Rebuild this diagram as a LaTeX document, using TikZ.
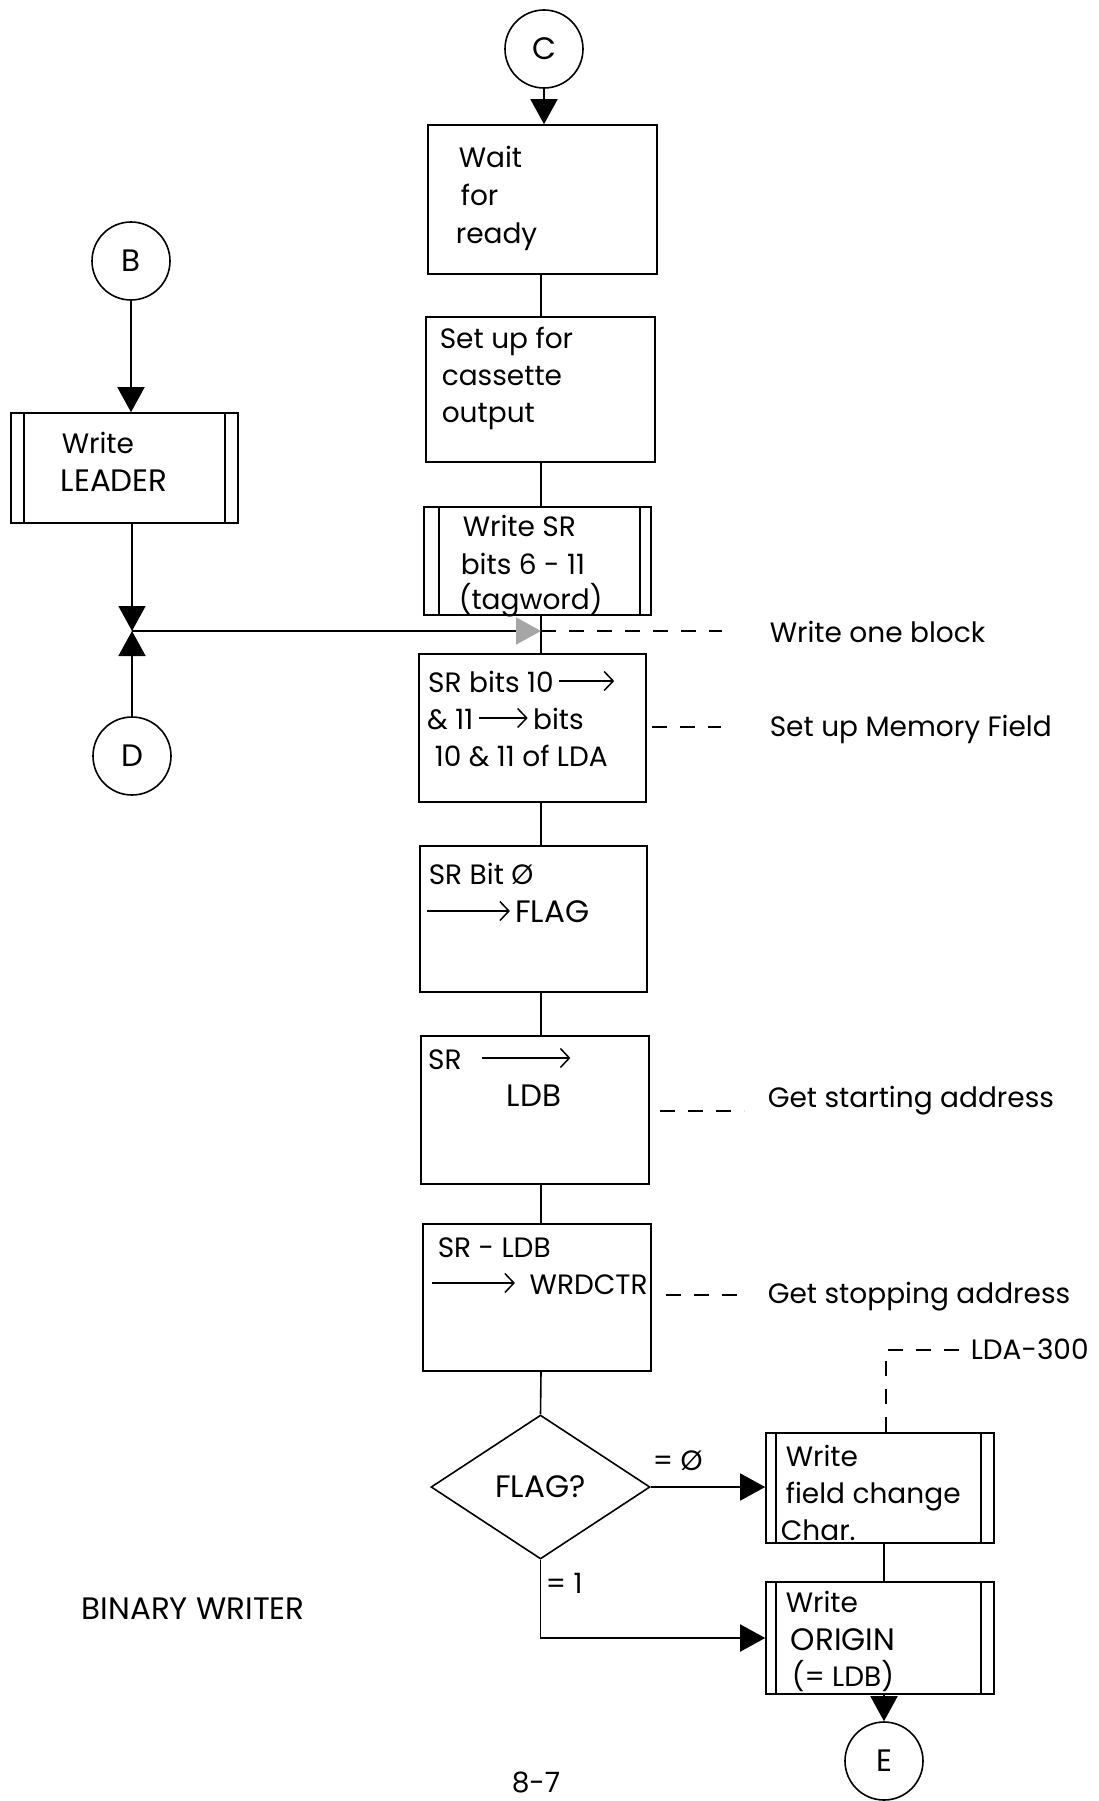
\documentclass[tikz,border=0pt]{standalone}
\usepackage{fontspec}
\setmainfont{Poppins}
\usetikzlibrary{arrows.meta,shapes.geometric}
\newcommand\myfs{\fontsize{28}{34}\selectfont}
\newcommand\capfs{\fontsize{31}{36}\selectfont}
\newcommand\tarr[1]{\tikz[baseline=-11pt]\draw[line width=1.5pt,-{Straight Barb[length=9pt,width=19pt]}] (0pt,0pt) -- (#1,0pt);}
\begin{document}
\begin{tikzpicture}[x=1pt,y=-1pt,
  line width=1.6pt,
  box/.style={draw, rectangle, inner sep=0pt},
  circ/.style={draw, circle, minimum size=78pt, inner sep=0pt, font=\capfs},
  txt/.style={anchor=base west, inner sep=0pt, font=\myfs},
  arr/.style={-{Triangle[length=25pt,width=27pt]}},
  arrgray/.style={-{Triangle[length=25pt,width=27pt,color=black!35]}},
  dsh/.style={dash pattern=on 15pt off 13pt},
]
\useasboundingbox (0,0) rectangle (1099,1801);

% boxes
\node[box, minimum width=229pt, minimum height=149pt] (b1) at (542.5,199.5) {};
\node[box, minimum width=229pt, minimum height=145pt] (b2) at (540.5,389.5) {};
\node[box, minimum width=227pt, minimum height=108pt] (b3) at (537.5,561) {};
\node[box, minimum width=227pt, minimum height=148pt] (b4) at (532.5,728) {};
\node[box, minimum width=227pt, minimum height=146pt] (b5) at (533.5,919) {};
\node[box, minimum width=228pt, minimum height=148pt] (b6) at (535,1110) {};
\node[box, minimum width=228pt, minimum height=147pt] (b7) at (537,1297.5) {};
\node[draw, diamond, minimum width=219pt, minimum height=144pt, inner sep=0pt, font=\capfs] (dia) at (540.5,1487) {FLAG?};
\node[box, minimum width=228pt, minimum height=110pt] (b8) at (880,1488) {};
\node[box, minimum width=228pt, minimum height=112pt] (b9) at (880,1638) {};
\node[box, minimum width=227pt, minimum height=110pt] (lead) at (124.5,468) {};

% inner verticals of predefined-process boxes
\draw ([xshift=16pt]b3.north west) -- ([xshift=16pt]b3.south west);
\draw ([xshift=-12pt]b3.north east) -- ([xshift=-12pt]b3.south east);
\draw ([xshift=11pt]b8.north west) -- ([xshift=11pt]b8.south west);
\draw ([xshift=-14pt]b8.north east) -- ([xshift=-14pt]b8.south east);
\draw ([xshift=11pt]b9.north west) -- ([xshift=11pt]b9.south west);
\draw ([xshift=-14pt]b9.north east) -- ([xshift=-14pt]b9.south east);
\draw ([xshift=14pt]lead.north west) -- ([xshift=14pt]lead.south west);
\draw ([xshift=-14pt]lead.north east) -- ([xshift=-14pt]lead.south east);

% connectors (circles)
\node[circ] (C) at (544,49) {C};
\node[circ] (B) at (131,261) {B};
\node[circ] (D) at (132,756) {D};
\node[circ] (E) at (884,1761) {E};

\coordinate (m) at (541,631);
\coordinate (j) at (132,631);

% flow lines
\draw[arr] (C) -- (C |- b1.north);
\draw (b1.south -| m) -- (b2.north -| m);
\draw (b2.south -| m) -- (b3.north -| m);
\draw (b3.south -| m) -- (b4.north -| m);
\draw (b4.south -| m) -- (b5.north -| m);
\draw (b5.south -| m) -- (b6.north -| m);
\draw (b6.south -| m) -- (b7.north -| m);
\draw (b7.south -| m) -- (dia.north);
\draw[arr] (dia.east) -- (b8.west |- dia.east);
\draw[arr] (dia.south) |- (b9.west);
\draw (b8.south -| E) -- (b9.north -| E);
\draw[arr] (b9.south -| E) -- (E);
\draw[arr] (B) -- (B |- lead.north);
\draw[arr] (lead.south -| j) -- (j);
\draw[arr] (D) -- (j);
\draw[arrgray] (j) -- (m);

% box texts
\node[txt] (t1a) at (458,167) {Wait};
\node[txt] (t1b) at (460,205) {for};
\node[txt] (t1c) at (455,243) {ready};
\node[txt] (t2a) at (439,348) {Set up for};
\node[txt] (t2b) at (441,385) {cassette};
\node[txt] (t2c) at (441,422) {output};
\node[txt] (t3a) at (462,536) {Write SR};
\node[txt] (t3b) at (460,574) {bits 6 - 11};
\node[txt] (t3c) at (458,609) {(tagword)};
\node[txt] (t4a) at (428,692) {SR bits 10\,\tarr{55pt}};
\node[txt] (t4b) at (427,729) {\& 11\,\tarr{49pt}\,bits};
\node[txt] (t4c) at (434,766) {10 \& 11 of LDA};
\node[txt] (t5a) at (428,884) {SR Bit Ø};
\node[txt] (t5b) at (426,922) {\tarr{83pt}\,{\capfs FLAG}};
\node[txt] (t6a) at (428,1069) {SR\hspace{20pt}\tarr{88pt}};
\node[txt, font=\capfs] (t6b) at (506,1106) {LDB};
\node[txt] (t7a) at (437,1257) {SR - LDB};
\node[txt] (t7b) at (431,1294) {\tarr{83pt}\hspace{14pt}WRDCTR};
\node[txt] (t8a) at (785,1466) {Write};
\node[txt] (t8b) at (785,1503) {field change};
\node[txt] (t8c) at (780,1540) {Char.};
\node[txt] (t9a) at (785,1612) {Write};
\node[txt, font=\capfs] (t9b) at (790,1650) {ORIGIN};
\node[txt] (t9c) at (791,1686) {(= LDB)};
\node[txt] (tla) at (61,453) {Write};
\node[txt, font=\capfs] (tlb) at (60,491) {LEADER};

% branch labels
\node[txt] (l0) at (652,1470) {= Ø};
\node[txt] (l1) at (545,1593) {= 1};

% annotations
\node[txt] (n1) at (769,642) {Write one block};
\node[txt] (n2) at (769,736) {Set up Memory Field};
\node[txt] (n3) at (767,1107) {Get starting address};
\node[txt] (n4) at (767,1303) {Get stopping address};
\node[txt] (n5) at (970,1359) {LDA-300};
\coordinate (n1e) at (722,631);
\coordinate (n2s) at (652,727);
\coordinate (n2e) at (721,727);
\coordinate (n3s) at (660,1111);
\coordinate (n3e) at (744,1111);
\coordinate (n4s) at (666,1295);
\coordinate (n4e) at (739,1295);
\coordinate (n5c) at (886,1350);
\coordinate (n5e) at (962,1350);
\draw[dsh] (m) -- (n1e);
\draw[dsh] (n2s) -- (n2e);
\draw[dsh] (n3s) -- (n3e);
\draw[dsh] (n4s) -- (n4e);
\draw[dsh] (n5c |- b8.north) -- (n5c) -- (n5e);

% titles
\node[txt, font=\capfs] (title) at (81,1619) {BINARY WRITER};
\node[txt] (page) at (511,1792) {8-7};
\end{tikzpicture}
\end{document}
